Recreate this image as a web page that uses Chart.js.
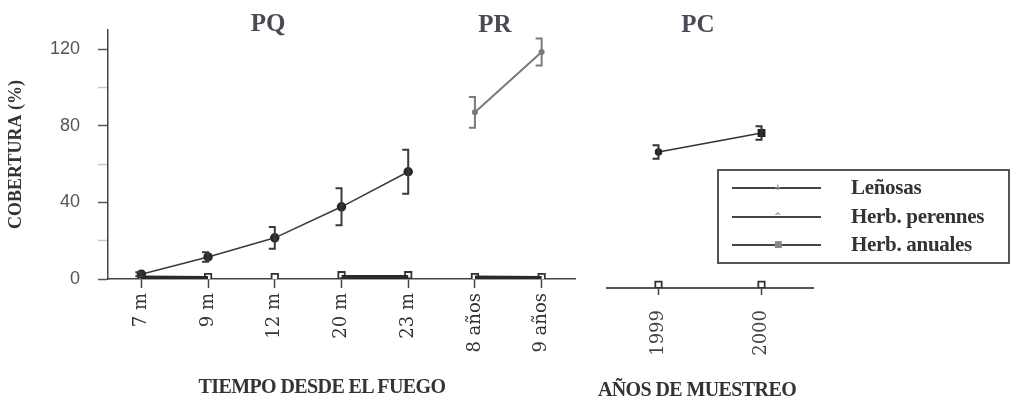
<!DOCTYPE html>
<html>
<head>
<meta charset="utf-8">
<script src="https://cdn.jsdelivr.net/npm/chart.js@4.4.0/dist/chart.umd.min.js"></script>
<style>
  body { margin: 0; background: #fff; }
  #wrap { position: relative; width: 1018px; height: 404px; overflow: hidden; }
  canvas { position: absolute; left: 0; top: 0; }
  .lbl { position: absolute; transform: translate(-50%, -50%); white-space: nowrap;
         font-family: "Liberation Serif", "DejaVu Serif", serif; font-weight: bold; color: #333; }
  .panel { font-size: 25px; color: #4a4a54; }
  .xt { font-size: 20px; letter-spacing: -0.6px; }
  #legend { position: absolute; left: 717px; top: 169px; width: 289px; height: 91px;
            border: 2px solid #555; }
  .row { position: absolute; left: 0; height: 28px; width: 100%; }
  .row .ln { position: absolute; left: 13px; width: 89px; top: 14px; height: 2px; background: #444; }
  .row .mk { position: absolute; left: 55px; top: 9px; font: bold 9px "DejaVu Sans", sans-serif; color: #888; }
  .row .tx { position: absolute; left: 132px; top: 0; font: bold 21px "Liberation Serif", serif;
             color: #333; line-height: 28px; letter-spacing: -0.3px; }
</style>
</head>
<body>
<div id="wrap">
  <canvas id="c1" width="1018" height="404"></canvas>
  <canvas id="c2" width="1018" height="404"></canvas>
  <div class="lbl panel" style="left:268px; top:23px;">PQ</div>
  <div class="lbl panel" style="left:495px; top:24px;">PR</div>
  <div class="lbl panel" style="left:698px; top:24px;">PC</div>
  <div class="lbl xt" style="left:322px; top:386px;">TIEMPO DESDE EL FUEGO</div>
  <div class="lbl xt" style="left:697px; top:389px;">AÑOS DE MUESTREO</div>
  <div id="legend">
    <div class="row" style="top:2px;"><div class="ln"></div><div class="mk">+</div><div class="tx">Leñosas</div></div>
    <div class="row" style="top:31px;"><div class="ln"></div><div class="mk">^</div><div class="tx">Herb. perennes</div></div>
    <div class="row" style="top:59px;"><div class="ln"></div><div class="mk">■</div><div class="tx">Herb. anuales</div></div>
  </div>
</div>
<script>
// categorias
var tiempos = ['7 m', '9 m', '12 m', '20 m', '23 m', '8 años', '9 años'];
var anios = ['1999', '2000'];

// cobertura (%) - serie principal en PQ
var pqCobertura = [2.5, 11.5, 21.5, 37.7, 56, null, null];
var pqError = [1, 2.5, 5.7, 9.7, 11.5, null, null];
// PR
var prCobertura = [null, null, null, null, null, 87, 118.5];
var prError = [null, null, null, null, null, 8, 7];
// valores cerca de cero
var lenosas = [0.8, 0.5, null, 1, 1, 0.8, 0.5];
var herbCero = [1, 1, 1, 2, 2, 1, 1];
// PC
var pcCobertura = [66.3, 76.2];
var pcError = [3.5, 3.5];
var pcCero = [-3, -3];

var yTicks = [0, 40, 80, 120];
var yMinor = [20, 60, 100];

// barras de error
var errorBars = {
    id: 'errorBars',
    afterDatasetsDraw: function (chart) {
        var ctx = chart.ctx;
        var y = chart.scales.y;
        chart.data.datasets.forEach(function (ds, i) {
            if (!ds.errors) return;
            var meta = chart.getDatasetMeta(i);
            ctx.save();
            ctx.strokeStyle = ds.borderColor;
            ctx.lineWidth = 2;
            meta.data.forEach(function (pt, j) {
                var v = ds.data[j], e = ds.errors[j];
                if (v == null || e == null) return;
                var top = y.getPixelForValue(v + e);
                var bot = y.getPixelForValue(v - e);
                ctx.beginPath();
                ctx.moveTo(pt.x, top);
                ctx.lineTo(pt.x, bot);
                ctx.moveTo(pt.x - 6, top);
                ctx.lineTo(pt.x + 1, top);
                ctx.moveTo(pt.x - 6, bot);
                ctx.lineTo(pt.x + 1, bot);
                ctx.stroke();
            });
            ctx.restore();
        });
    }
};

var chart1 = new Chart(document.getElementById('c1'), {
    type: 'line',
    data: {
        labels: tiempos,
        datasets: [{
            label: 'Herb. perennes PQ',
            data: pqCobertura,
            errors: pqError,
            borderColor: '#3a3a3a',
            borderWidth: 1.5,
            pointRadius: 4,
            pointBackgroundColor: '#2a2a2a',
            pointBorderColor: '#2a2a2a',
            spanGaps: false
        }, {
            label: 'Herb. perennes PR',
            data: prCobertura,
            errors: prError,
            borderColor: '#7a7a7a',
            borderWidth: 2,
            pointRadius: 2,
            pointBackgroundColor: '#7a7a7a',
            pointBorderColor: '#7a7a7a',
            spanGaps: false
        }, {
            label: 'Leñosas',
            data: lenosas,
            borderColor: '#2a2a2a',
            borderWidth: 4,
            pointRadius: 0,
            spanGaps: false,
            segment: {
                borderColor: function (c) { return c.p0DataIndex === 4 ? 'rgba(0,0,0,0)' : undefined; }
            }
        }, {
            label: 'Herb. anuales',
            data: herbCero,
            showLine: false,
            pointStyle: 'rect',
            pointRadius: 4.5,
            pointBorderWidth: 1.8,
            pointBorderColor: '#333',
            pointBackgroundColor: '#fff'
        }]
    },
    options: {
        responsive: false,
        animation: false,
        layout: { padding: { left: 0, top: 30, right: 443, bottom: 0 } },
        plugins: { legend: { display: false }, tooltip: { enabled: false } },
        scales: {
            x: {
                type: 'category',
                offset: true,
                afterFit: function (s) { s.height = 125; },
                grid: { drawOnChartArea: false, offset: false, tickLength: 9, tickColor: '#444', tickWidth: 1.5 },
                border: { color: '#444', width: 1.5 },
                ticks: {
                    autoSkip: false, minRotation: 90, maxRotation: 90, padding: 5,
                    color: '#333', font: { family: 'DejaVu Serif', size: 18 }
                }
            },
            y: {
                min: 0,
                max: 130,
                afterFit: function (s) { s.width = 108; },
                afterBuildTicks: function (s) {
                    s.ticks = yTicks.concat(yMinor).sort(function (a, b) { return a - b; })
                        .map(function (v) { return { value: v }; });
                },
                grid: {
                    drawOnChartArea: false, tickLength: 10, tickWidth: 1.5,
                    tickColor: function (c) { return yTicks.indexOf(c.tick.value) >= 0 ? '#555' : '#c8c8c8'; }
                },
                border: { color: '#444', width: 1.5 },
                ticks: {
                    padding: 18, color: '#555',
                    font: { family: 'Liberation Sans', size: 18 },
                    callback: function (v) { return yTicks.indexOf(v) >= 0 ? v : ''; }
                },
                title: {
                    display: true, text: 'COBERTURA (%)', color: '#333',
                    padding: { top: 6, bottom: 0 },
                    font: { family: 'Liberation Serif', size: 18, weight: 'bold' }
                }
            }
        }
    },
    plugins: [errorBars]
});

var chart2 = new Chart(document.getElementById('c2'), {
    type: 'line',
    data: {
        labels: anios,
        datasets: [{
            label: 'PC',
            data: pcCobertura,
            errors: pcError,
            borderColor: '#333',
            borderWidth: 1.5,
            pointStyle: ['circle', 'rect'],
            pointRadius: [3, 4.5],
            pointBackgroundColor: '#222',
            pointBorderColor: '#222'
        }, {
            label: 'Herb. anuales PC',
            data: pcCero,
            showLine: false,
            pointStyle: 'rect',
            pointRadius: 4.5,
            pointBorderWidth: 1.8,
            pointBorderColor: '#333',
            pointBackgroundColor: '#fff'
        }]
    },
    options: {
        responsive: false,
        animation: false,
        layout: { padding: { left: 607, top: 30, right: 205, bottom: 0 } },
        plugins: { legend: { display: false }, tooltip: { enabled: false } },
        scales: {
            x: {
                type: 'category',
                offset: true,
                afterFit: function (s) { s.height = 116; },
                grid: { drawOnChartArea: false, offset: false, tickLength: 7, tickColor: '#444', tickWidth: 1.5 },
                border: { color: '#555', width: 2 },
                ticks: {
                    autoSkip: false, minRotation: 90, maxRotation: 90, padding: 15,
                    color: '#444', font: { family: 'DejaVu Serif', size: 18 }
                }
            },
            y: { display: false, min: -4.7, max: 130 }
        }
    },
    plugins: [errorBars]
});
</script>
</body>
</html>
